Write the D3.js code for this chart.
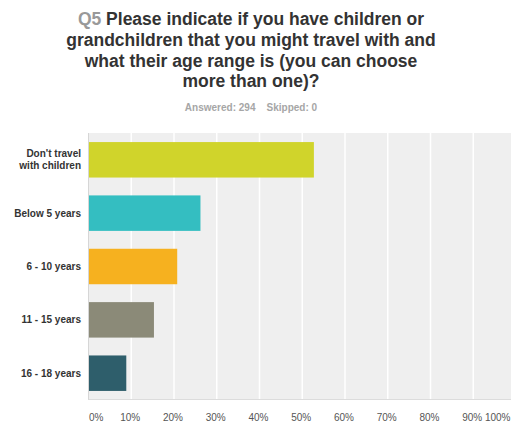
<!DOCTYPE html>
<html>
<head>
<meta charset="utf-8">
<script src="https://cdn.jsdelivr.net/npm/d3@7"></script>
<style>
  html, body { margin: 0; padding: 0; background: #fff; }
  svg { display: block; font-family: "Liberation Sans", Arial, sans-serif; }
</style>
</head>
<body>
<svg id="chart" width="511" height="422"></svg>
<script>
// Survey question and response counts
const questionNumber = "Q5";
const titleLines = [
  "Please indicate if you have children or",
  "grandchildren that you might travel with and",
  "what their age range is (you can choose",
  "more than one)?"
];
const answered = 294;
const skipped = 0;

const categories = [
  ["Don't travel", "with children"],
  ["Below 5 years"],
  ["6 - 10 years"],
  ["11 - 15 years"],
  ["16 - 18 years"]
];
const percents = [52.72, 26.19, 20.75, 15.31, 8.84];
const barColors = ["#d0d42b", "#34bec1", "#f6b11f", "#8b8a78", "#2e5e6b"];
const tickValues = [0, 10, 20, 30, 40, 50, 60, 70, 80, 90, 100];

const svg = d3.select("#chart");
const width = 511;
const plotLeft = 88.5, plotRight = 516, plotTop = 133, plotBottom = 400;

const x = d3.scaleLinear().domain([0, 100]).range([plotLeft, plotRight]);
const y = d3.scaleBand()
  .domain(categories.map((c, i) => i))
  .range([plotTop, plotBottom])
  .paddingInner(0.335)
  .paddingOuter(0.17);

// Title
const title = svg.append("text")
  .attr("text-anchor", "middle")
  .attr("font-size", "17.5px")
  .attr("font-weight", "bold")
  .attr("fill", "#333");
titleLines.forEach((line, i) => {
  const t = title.append("tspan").attr("x", 251).attr("y", 25 + i * 20.8);
  if (i === 0) {
    t.append("tspan").attr("fill", "#999").text(questionNumber + " ");
    t.append("tspan").text(line);
  } else {
    t.text(line);
  }
});

svg.append("text")
  .attr("x", 251).attr("y", 111)
  .attr("text-anchor", "middle")
  .attr("font-size", "10px")
  .attr("font-weight", "bold")
  .attr("fill", "#a6a6a6")
  .attr("xml:space", "preserve")
  .text(`Answered: ${answered}    Skipped: ${skipped}`);

// Plot background
svg.append("rect")
  .attr("x", plotLeft).attr("y", plotTop)
  .attr("width", plotRight - plotLeft).attr("height", plotBottom - plotTop)
  .attr("fill", "#efefef");

// Vertical gridlines
svg.append("g")
  .selectAll("line")
  .data(tickValues.filter(v => v > 0))
  .join("line")
  .attr("x1", d => x(d)).attr("x2", d => x(d))
  .attr("y1", plotTop).attr("y2", plotBottom)
  .attr("stroke", "#fff")
  .attr("stroke-width", 1.5);

// Axis lines
svg.append("line")
  .attr("x1", plotLeft).attr("x2", plotLeft)
  .attr("y1", plotTop).attr("y2", plotBottom)
  .attr("stroke", "#d6d6d6").attr("stroke-width", 1);
svg.append("line")
  .attr("x1", plotLeft).attr("x2", plotRight)
  .attr("y1", plotBottom - 0.5).attr("y2", plotBottom - 0.5)
  .attr("stroke", "#dcdcdc").attr("stroke-width", 1);

// Bars
svg.append("g")
  .selectAll("rect")
  .data(percents)
  .join("rect")
  .attr("x", x(0) + 0.5)
  .attr("y", (d, i) => y(i))
  .attr("width", d => x(d) - x(0) - 0.5)
  .attr("height", y.bandwidth())
  .attr("fill", (d, i) => barColors[i]);

// Category labels
const catG = svg.append("g")
  .attr("font-size", "10px")
  .attr("font-weight", "bold")
  .attr("fill", "#333")
  .attr("text-anchor", "end");
categories.forEach((lines, i) => {
  const cy = y(i) + y.bandwidth() / 2;
  const t = catG.append("text");
  lines.forEach((ln, j) => {
    t.append("tspan")
      .attr("x", 81)
      .attr("y", cy + 3.5 + (j - (lines.length - 1) / 2) * 11.7)
      .text(ln);
  });
});

// Percentage axis labels
const xAxis = d3.axisBottom(x)
  .tickValues(tickValues)
  .tickFormat(d => d + "%")
  .tickSize(0)
  .tickPadding(0);
const axisG = svg.append("g")
  .attr("transform", `translate(0, ${plotBottom})`)
  .call(xAxis);
axisG.select(".domain").remove();
const last = tickValues.length - 1;
axisG.selectAll("text")
  .attr("y", 21)
  .attr("dy", null)
  .attr("font-size", "10px")
  .attr("font-family", "Liberation Sans, Arial, sans-serif")
  .attr("fill", "#555")
  .attr("dx", (d, i) => i === 0 ? 0 : (i === last ? (width - 1) - x(d) : -1.5))
  .attr("text-anchor", (d, i) => i === 0 ? "start" : (i === last ? "end" : "middle"));
</script>
</body>
</html>
